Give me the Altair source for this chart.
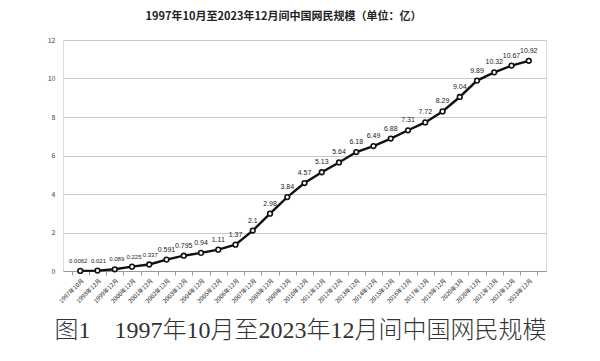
import altair as alt
import pandas as pd

periods = ["1997年10月", "1998年12月", "1999年12月", "2000年12月", "2001年12月",
           "2002年12月", "2003年12月", "2004年12月", "2005年12月", "2006年12月",
           "2007年12月", "2008年12月", "2009年12月", "2010年12月", "2011年12月",
           "2012年12月", "2013年12月", "2014年12月", "2015年12月", "2016年12月",
           "2017年12月", "2018年12月", "2020年3月", "2020年12月", "2021年12月",
           "2022年12月", "2023年12月"]
users = [0.0062, 0.021, 0.089, 0.225, 0.337, 0.591, 0.795, 0.94, 1.11, 1.37,
         2.1, 2.98, 3.84, 4.57, 5.13, 5.64, 6.18, 6.49, 6.88, 7.31,
         7.72, 8.29, 9.04, 9.89, 10.32, 10.67, 10.92]
labels = ["0.0062", "0.021", "0.089", "0.225", "0.337", "0.591", "0.795", "0.94",
          "1.11", "1.37", "2.1", "2.98", "3.84", "4.57", "5.13", "5.64", "6.18",
          "6.49", "6.88", "7.31", "7.72", "8.29", "9.04", "9.89", "10.32",
          "10.67", "10.92"]
early_dx = [-2, 1, 2, 2, 1]

df = pd.DataFrame({"period": periods, "users": users, "label": labels})

caption = "图1　1997年10月至2023年12月间中国网民规模"

x = alt.X("period:N", sort=periods,
          scale=alt.Scale(paddingInner=0, paddingOuter=0.5),
          axis=alt.Axis(title=caption, labelAngle=-45, labelFontSize=6,
                        labelColor="#222", domainColor="#999", tickColor="#999",
                        tickSize=4, tickBand="extent", labelPadding=2,
                        titleFont="Liberation Serif, Noto Sans CJK SC",
                        titleFontSize=24, titleFontWeight=300,
                        titleColor="#333", titleAlign="center",
                        titleBaseline="middle", titleX=237, titleY=59))
y = alt.Y("users:Q",
          scale=alt.Scale(domain=[0, 12]),
          axis=alt.Axis(title=None, values=[0, 2, 4, 6, 8, 10, 12],
                        labelFontSize=7, labelColor="#444", domain=False,
                        ticks=False, labelPadding=8,
                        gridColor="#c8c8c8", gridWidth=1))

base = alt.Chart(df)
line = base.mark_line(color="#111", strokeWidth=2.4).encode(x=x, y=y)
pts = base.mark_point(shape="circle", filled=True, fill="white", stroke="#111",
                      strokeWidth=1.6, size=22, opacity=1).encode(x=x, y=y)
n_early = len(early_dx)
txt_main = alt.Chart(df.iloc[n_early:]).mark_text(
    fontSize=7, color="#222", dy=-10,
    font="Liberation Sans, Noto Sans CJK SC").encode(x=x, y=y, text="label:N")
early_layers = [
    alt.Chart(df.iloc[i:i + 1]).mark_text(
        fontSize=6, color="#222", dy=-10, dx=early_dx[i],
        font="Liberation Sans, Noto Sans CJK SC").encode(x=x, y=y, text="label:N")
    for i in range(n_early)
]

chart = alt.layer(line, pts, txt_main, *early_layers).properties(
    width=483, height=231,
    title=alt.TitleParams("1997年10月至2023年12月间中国网民规模（单位：亿）",
                          fontSize=11, fontWeight="bold", color="#222",
                          font="Noto Sans CJK SC", anchor="middle", dx=-21,
                          offset=14),
    autosize=alt.AutoSizeParams(type="none"),
    padding={"left": 55, "top": 32, "right": 40, "bottom": 75},
).configure_view(stroke=None).configure(
    font="Noto Sans CJK SC", background="white")

chart.save("out.html", embed_options={"renderer": "svg", "actions": False})
